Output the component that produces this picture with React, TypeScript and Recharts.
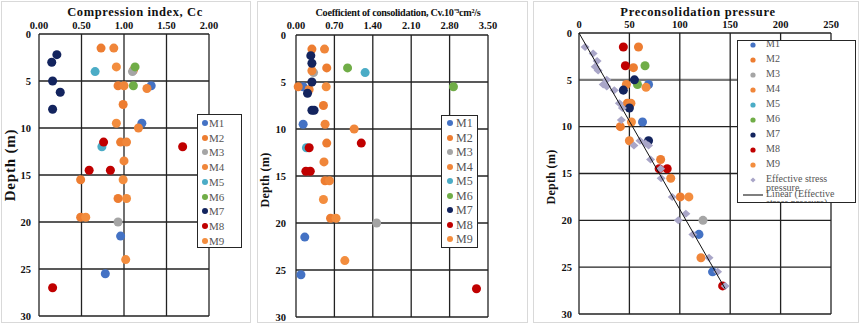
import React from 'react';
import {ScatterChart, Scatter, XAxis, YAxis, CartesianGrid, Legend} from 'recharts';

// [value, depth (m)]
type Pt = [number, number];

const seriesNames = ['M1', 'M2', 'M3', 'M4', 'M5', 'M6', 'M7', 'M8', 'M9'];
const seriesColors = ['#4472C4', '#ED7D31', '#A5A5A5', '#F0863A', '#4BACC6', '#70AD47', '#13245E', '#C00000', '#F38D3E'];
const effName = 'Effective stress pressure';
const trendName = 'Linear (Effective stress pressure)';

const depthTicks = [0, 5, 10, 15, 20, 25, 30];
const ccTicks = [0, 0.5, 1, 1.5, 2];
const cvTicks = [0, 0.7, 1.4, 2.1, 2.8, 3.5];
const pcTicks = [0, 50, 100, 150, 200, 250];

// Compression index, Cc
const ccM1: Pt[] = [[1.32, 5.5], [1.21, 9.5], [0.96, 21.5], [0.78, 25.5]];
const ccM2: Pt[] = [[0.73, 1.5], [1.11, 3.85], [0.93, 5.5], [0.99, 7.5], [0.96, 11.5], [0.49, 15.5], [0.93, 17.5], [0.49, 19.5]];
const ccM3: Pt[] = [[1.1, 4.0], [0.93, 20.0]];
const ccM4: Pt[] = [[0.88, 1.5], [1.0, 5.5], [1.27, 5.8], [1.17, 10.0], [1.03, 11.5], [1.0, 13.5]];
const ccM5: Pt[] = [[0.66, 4.0], [0.74, 12.0]];
const ccM6: Pt[] = [[1.13, 3.5], [1.11, 5.5]];
const ccM7: Pt[] = [[0.21, 2.2], [0.15, 3.0], [0.16, 5.0], [0.25, 6.2], [0.16, 8.0]];
const ccM8: Pt[] = [[0.76, 11.5], [1.69, 12.0], [0.59, 14.5], [0.84, 14.5], [0.16, 27.0]];
const ccM9: Pt[] = [[0.91, 3.5], [0.91, 9.5], [0.99, 15.5], [1.03, 17.5], [0.55, 19.5], [1.02, 24.0]];

// Coefficient of consolidation, Cv
const cvM1: Pt[] = [[0.13, 5.5], [0.13, 9.5], [0.16, 21.5], [0.09, 25.5]];
const cvM2: Pt[] = [[0.29, 1.5], [0.56, 3.5], [0.04, 5.5], [0.5, 7.5], [0.56, 11.5], [0.53, 15.5], [0.63, 19.5]];
const cvM3: Pt[] = [[0.32, 4.0], [1.47, 20.0]];
const cvM4: Pt[] = [[0.52, 1.5], [0.29, 3.8], [0.24, 5.8], [0.53, 9.5], [1.06, 10.0], [0.51, 13.5], [0.61, 15.5]];
const cvM5: Pt[] = [[1.26, 4.0], [0.19, 12.0]];
const cvM6: Pt[] = [[0.94, 3.5], [2.87, 5.5]];
const cvM7: Pt[] = [[0.27, 2.2], [0.29, 3.0], [0.29, 5.0], [0.21, 6.2], [0.29, 8.0], [0.33, 8.0]];
const cvM8: Pt[] = [[1.19, 11.5], [0.24, 12.0], [0.18, 14.5], [0.26, 14.5], [3.29, 27.0]];
const cvM9: Pt[] = [[0.55, 5.5], [0.5, 17.5], [0.73, 19.5], [0.89, 24.0]];

// Preconsolidation pressure
const pcM1: Pt[] = [[69, 5.5], [63, 9.5], [119, 21.5], [132.5, 25.5]];
const pcM2: Pt[] = [[59, 1.5], [54, 3.7], [48, 7.5], [41, 10.0], [81, 13.5], [100.5, 17.5]];
const pcM3: Pt[] = [[123, 20.0]];
const pcM4: Pt[] = [[47, 5.5], [51.5, 7.5], [50, 11.5], [91, 15.5], [121, 24.0]];
const pcM5: Pt[] = [];
const pcM6: Pt[] = [[65.5, 3.5], [58, 5.5]];
const pcM7: Pt[] = [[55, 5.0], [44, 6.1], [50, 8.0], [69, 11.5]];
const pcM8: Pt[] = [[44, 1.5], [46, 3.5], [79.5, 14.5], [87.5, 14.5], [142.5, 27.0]];
const pcM9: Pt[] = [[66.5, 5.8], [52, 9.5], [109, 17.5]];
const effStress: Pt[] = [
    [6, 1.5], [14, 2.2], [18, 3.0], [16, 3.6], [19, 4.0], [27.5, 5.0], [24, 5.5], [27.5, 5.7], [35, 6.1],
    [40, 7.5], [43, 8.0], [42, 9.3], [60.5, 11.5], [66, 11.8], [54.5, 12.0], [69, 12.0], [71, 13.5],
    [81, 14.5], [81.5, 15.5], [92.5, 17.5], [106, 19.3], [98.5, 20.0], [113, 21.5], [129, 24.0],
    [137.5, 25.5], [145, 27.0]
];

const FONT = '"Liberation Serif", "Times New Roman", serif';
const legendOrder = [...seriesNames, effName, trendName];

const toRows = (pts: Pt[]) => pts.map(([v, depth]) => ({v, depth}));

const makeSeries = (arrs: Pt[][]) =>
    arrs.map((pts, i) => ({name: seriesNames[i], color: seriesColors[i], data: toRows(pts)}));

const ccSeries = makeSeries([ccM1, ccM2, ccM3, ccM4, ccM5, ccM6, ccM7, ccM8, ccM9]);
const cvSeries = makeSeries([cvM1, cvM2, cvM3, cvM4, cvM5, cvM6, cvM7, cvM8, cvM9]);
const pcSeries = makeSeries([pcM1, pcM2, pcM3, pcM4, pcM5, pcM6, pcM7, pcM8, pcM9]);

// linear trend of depth on effective stress (through the origin)
const sumPD = effStress.reduce((s, [p, d]) => s + p * d, 0);
const sumPP = effStress.reduce((s, [p]) => s + p * p, 0);
const slope = sumPD / sumPP;
const maxP = Math.max(...effStress.map(([p]) => p));
const trendRows = [{v: 0, depth: 0}, {v: maxP, depth: slope * maxP}];

interface LegendCfg {
    left: number; top: number; w: number; h: number;
    y0: number; step: number; mx: number; tx: number; tw: number;
    fs: number; lh: number; r: number;
}

const LegendBox = ({payload, cfg}: {payload?: any[]; cfg: LegendCfg}) => {
    const items = [...(payload || [])].sort((a, b) => legendOrder.indexOf(a.value) - legendOrder.indexOf(b.value));
    return (
        <div style={{
            width: cfg.w, height: cfg.h, border: '1px solid #262626', background: '#fff', boxSizing: 'border-box',
            position: 'relative', overflow: 'hidden', fontFamily: FONT, fontSize: cfg.fs, color: '#555'
        }}>
            {items.map((e, i) => (
                <div key={i} style={{position: 'absolute', left: 0, top: cfg.y0 + i * cfg.step, height: 0, width: '100%'}}>
                    <svg width={22} height={12} style={{position: 'absolute', left: cfg.mx - 11, top: -6}}>
                        {e.type === 'line' ? (
                            <line x1={1} x2={21} y1={6} y2={6} stroke="#7f7f7f" strokeWidth={2}/>
                        ) : e.type === 'diamond' ? (
                            <path d={`M11,${6 - cfg.r}L${11 + cfg.r},6L11,${6 + cfg.r}L${11 - cfg.r},6Z`} fill={e.color}/>
                        ) : (
                            <circle cx={11} cy={6} r={cfg.r} fill={e.color}/>
                        )}
                    </svg>
                    <span style={{position: 'absolute', left: cfg.tx, top: -cfg.lh / 2, width: cfg.tw, lineHeight: cfg.lh + 'px'}}>
                        {e.value}
                    </span>
                </div>
            ))}
        </div>
    );
};

const Diamond = (props: any) => {
    const {cx, cy, fill} = props;
    return <path d={`M${cx},${cy - 4}L${cx + 4.5},${cy}L${cx},${cy + 4}L${cx - 4.5},${cy}Z`} fill={fill}/>;
};

const NoDot = () => <g/>;

// grid line renderer: the line at index `grayIdx` drawn lighter and thicker
const gridLine = (grayIdx: number) => (lp: any) => {
    const {x1, y1, x2, y2, index} = lp;
    const gray = index === grayIdx;
    return <line key={`h-${index}`} x1={x1} y1={y1} x2={x2} y2={y2} fill="none"
                 stroke={gray ? '#7a7a7a' : '#222'} strokeWidth={gray ? 2.2 : 1.3}/>;
};

const XTick = (fmt: (v: number) => string) => (tp: any) => (
    <text x={tp.x} y={tp.y} textAnchor="middle" fontFamily={FONT} fontWeight="bold" fontSize={10.5} fill="#111">
        {fmt(tp.payload.value)}
    </text>
);

const YTick = (tp: any) => (
    <text x={tp.x} y={tp.y} dy="0.35em" textAnchor="end" fontFamily={FONT} fontWeight="bold" fontSize={10.5} fill="#111">
        {tp.payload.value}
    </text>
);

interface PanelProps {
    left: number; width: number;
    yAxisW: number; xAxisH: number; right: number; bottom: number;
    xTicks: number[]; xFmt: (v: number) => string; yTickGap: number; xTickGap: number;
    title: string; titleDx: number; titleSize: number; titleSpacing: number;
    yLabelX: number; yLabelY: number; yLabelSize: number; yLabelSpacing: number;
    grayRow?: number;
    series: {name: string; color: string; data: {v: number; depth: number}[]}[];
    legend: LegendCfg;
    extra?: React.ReactNode;
}

const Panel = (p: PanelProps) => (
    <div style={{position: 'absolute', left: p.left, top: 0}}>
        <ScatterChart width={p.width} height={326}
                      margin={{top: 0, right: p.right, bottom: p.bottom, left: 0}}>
            {p.grayRow !== undefined ? (
                <CartesianGrid stroke="#222" strokeWidth={1.3} horizontal={gridLine(p.grayRow)}/>
            ) : (
                <CartesianGrid stroke="#222" strokeWidth={1.3}/>
            )}
            <XAxis type="number" dataKey="v" orientation="top" domain={[p.xTicks[0], p.xTicks[p.xTicks.length - 1]]}
                   ticks={p.xTicks} interval={0} height={p.xAxisH} axisLine={false} tickLine={false}
                   tickSize={p.xTickGap} tickMargin={0} tick={XTick(p.xFmt)}
                   label={{
                       content: (lp: any) => {
                           const vb = lp.viewBox || {x: 0, width: 0};
                           return (
                               <text x={vb.x + vb.width / 2 + p.titleDx} y={15.5} textAnchor="middle"
                                     fontFamily={FONT} fontWeight="bold" fontSize={p.titleSize}
                                     letterSpacing={p.titleSpacing} fill="#111">{p.title}</text>
                           );
                       }
                   }}/>
            <YAxis type="number" dataKey="depth" domain={[0, 30]} reversed ticks={depthTicks} interval={0}
                   width={p.yAxisW} axisLine={false} tickLine={false} tickSize={p.yTickGap} tickMargin={0}
                   tick={YTick}
                   label={{
                       content: () => (
                           <text x={p.yLabelX} y={p.yLabelY} textAnchor="middle" dominantBaseline="central"
                                 transform={`rotate(-90 ${p.yLabelX} ${p.yLabelY})`} fontFamily={FONT}
                                 fontWeight="bold" fontSize={p.yLabelSize} letterSpacing={p.yLabelSpacing}
                                 fill="#111">Depth (m)</text>
                       )
                   }}/>
            {p.series.map(s => (
                <Scatter key={s.name} name={s.name} data={s.data} fill={s.color} isAnimationActive={false}/>
            ))}
            {p.extra}
            <Legend layout="vertical" align="center" verticalAlign="middle"
                    wrapperStyle={{left: p.legend.left, top: p.legend.top, width: p.legend.w}}
                    content={(lp: any) => <LegendBox payload={lp.payload} cfg={p.legend}/>}/>
        </ScatterChart>
    </div>
);

const frame = (left: number, width: number) => (
    <div style={{
        position: 'absolute', left, top: 1, width, height: 322, border: '1px solid #d9d9d9', boxSizing: 'border-box'
    }}/>
);

export default function App() {
    return (
        <div style={{position: 'absolute', left: 0, top: 0, width: 860, height: 326, background: '#fff', overflow: 'hidden'}}>
            {frame(1, 250)}
            {frame(257, 271)}
            {frame(533, 326)}
            <Panel left={0} width={252} yAxisW={39} xAxisH={34} right={43} bottom={10}
                   xTicks={ccTicks} xFmt={v => v.toFixed(2)} yTickGap={8} xTickGap={5}
                   title="Compression index, Cc" titleDx={11} titleSize={12.5} titleSpacing={0.6}
                   yLabelX={10} yLabelY={165} yLabelSize={15} yLabelSpacing={0.8}
                   series={ccSeries}
                   legend={{left: 197, top: 114, w: 45, h: 134, y0: 8, step: 14.7, mx: 7, tx: 11, tw: 32, fs: 11, lh: 12, r: 3}}/>
            <Panel left={257} width={272} yAxisW={39} xAxisH={35} right={41} bottom={9}
                   xTicks={cvTicks} xFmt={v => v.toFixed(2)} yTickGap={10} xTickGap={6}
                   title="Coefficient of consolidation, Cv.10⁻³cm²/s" titleDx={6} titleSize={10.2} titleSpacing={-0.3}
                   yLabelX={8} yLabelY={180} yLabelSize={12} yLabelSpacing={0.3}
                   series={cvSeries}
                   legend={{left: 184, top: 115, w: 37, h: 133, y0: 7.3, step: 14.5, mx: 8.3, tx: 14, tw: 22, fs: 12, lh: 12, r: 3}}/>
            <Panel left={533} width={327} yAxisW={46} xAxisH={33} right={29} bottom={12}
                   xTicks={pcTicks} xFmt={v => String(v)} yTickGap={7} xTickGap={5}
                   title="Preconsolidation pressure" titleDx={-7} titleSize={12.5} titleSpacing={0.7}
                   yLabelX={18} yLabelY={177} yLabelSize={12} yLabelSpacing={0.3}
                   grayRow={1}
                   series={pcSeries}
                   legend={{left: 204, top: 40, w: 119, h: 163, y0: 3.5, step: 15, mx: 14.7, tx: 28, tw: 88, fs: 10, lh: 8.5, r: 2.6}}
                   extra={[
                       <Scatter key="eff" name={effName} data={toRows(effStress)} fill="#A9A6C8"
                                shape={Diamond} legendType="diamond" isAnimationActive={false}/>,
                       <Scatter key="trend" name={trendName} data={trendRows} fill="#111"
                                line={{stroke: '#111', strokeWidth: 1}} lineType="joint" shape={NoDot}
                                legendType="line" isAnimationActive={false}/>
                   ]}/>
        </div>
    );
}
